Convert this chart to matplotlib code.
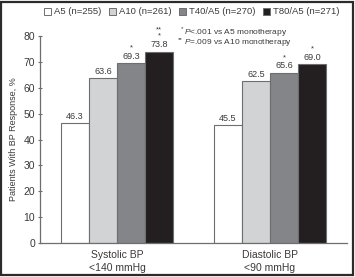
import matplotlib.pyplot as plt
import matplotlib.patches as mpatches
import numpy as np

# Data
groups = ["Systolic BP\n<140 mmHg", "Diastolic BP\n<90 mmHg"]
series = ["A5 (n=255)", "A10 (n=261)", "T40/A5 (n=270)", "T80/A5 (n=271)"]
a5 = [46.3, 45.5]
a10 = [63.6, 62.5]
t40a5 = [69.3, 65.6]
t80a5 = [73.8, 69.0]
stars_t40 = ["*", "*"]
stars_t80 = ["**\n*", "*"]
yticks = [0, 10, 20, 30, 40, 50, 60, 70, 80]

colors = ["#ffffff", "#d2d3d5", "#838588", "#231f20"]
text_col = "#3a3a3a"

plt.rcParams["font.family"] = ["Liberation Sans", "DejaVu Sans"]
plt.rcParams["mathtext.fontset"] = "custom"
plt.rcParams["mathtext.it"] = "Liberation Sans:italic"
plt.rcParams["mathtext.rm"] = "Liberation Sans"

fig = plt.figure(figsize=(3.55, 2.77), dpi=100)
ax = fig.add_axes([40 / 355, 33.7 / 277, 307 / 355, 207.6 / 277])

x = np.arange(len(groups))
w = 0.183
values = [a5, a10, t40a5, t80a5]
for i, (vals, c) in enumerate(zip(values, colors)):
    pos = x + (i - 1.5) * w
    ax.bar(pos, vals, width=w, color=c, edgecolor="#6d6e70", linewidth=0.8,
           label=series[i], zorder=2)
    for px, v in zip(pos, vals):
        ax.text(px, v + 1.0, f"{v:.1f}", ha="center", va="bottom",
                fontsize=6.5, color=text_col)
    if i == 2:
        for px, v, s in zip(pos, vals, stars_t40):
            ax.text(px, v + 4.6, s, ha="center", va="bottom", fontsize=5.5,
                    color=text_col, linespacing=0.9)
    if i == 3:
        for px, v, s in zip(pos, vals, stars_t80):
            ax.text(px, v + 4.6, s, ha="center", va="bottom", fontsize=5.5,
                    color=text_col, linespacing=0.9)

ax.set_xlim(-0.503, 1.503)
ax.set_ylim(0, 80)
ax.set_yticks(yticks)
ax.set_xticks(x)
ax.set_xticklabels(groups, fontsize=7.5, color=text_col, linespacing=1.3)
ax.tick_params(axis="x", length=0, pad=5)
ax.tick_params(axis="y", direction="inout", length=3, width=0.8,
               labelsize=7.5, labelcolor=text_col, color="#6d6e70", pad=2)
for s in ["top", "right"]:
    ax.spines[s].set_visible(False)
for s in ["left", "bottom"]:
    ax.spines[s].set_color("#6d6e70")
    ax.spines[s].set_linewidth(0.9)
ax.set_ylabel("Patients With BP Response, %", fontsize=6.5, color=text_col,
              labelpad=4)

# footnotes: small superscript stars drawn apart from the main text
fig.text(181 / 355, 1 - 29 / 277, "*", fontsize=4.5, color=text_col, va="center")
fig.text(184 / 355, 1 - 32 / 277, r"$\mathit{P}$<.001 vs A5 monotherapy",
         fontsize=6.0, color=text_col, va="center")
fig.text(178 / 355, 1 - 40 / 277, "**", fontsize=4.5, color=text_col, va="center")
fig.text(184 / 355, 1 - 43 / 277, r"$\mathit{P}$=.009 vs A10 monotherapy",
         fontsize=6.0, color=text_col, va="center")

handles = [mpatches.Patch(facecolor=c, edgecolor="#6d6e70", linewidth=0.7)
           for c in colors]
fig.legend(handles, series, loc="center", bbox_to_anchor=(0.54, 1 - 12 / 277),
           ncol=4, frameon=False, fontsize=6.8, handlelength=0.8,
           handleheight=0.8, handletextpad=0.3, columnspacing=0.75,
           labelcolor=text_col)

fig.patches.append(mpatches.Rectangle((0.004, 0.008), 0.99, 0.985,
                                      transform=fig.transFigure, fill=False,
                                      edgecolor="#2b2b2b", linewidth=1.6))

fig.savefig("out.png", dpi=100)
